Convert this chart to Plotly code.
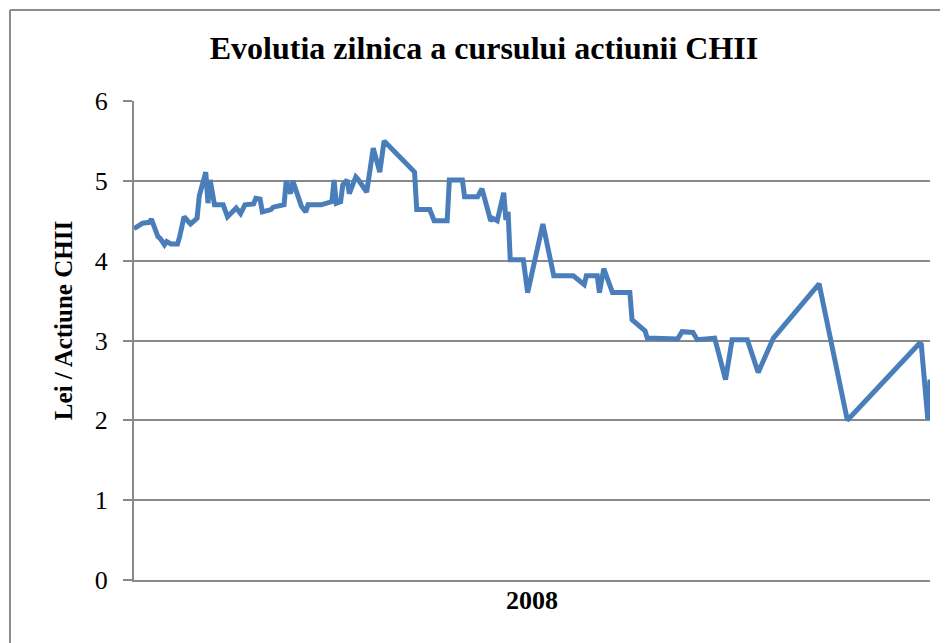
import plotly.graph_objects as go

# day offsets within 2008 and price in Lei
days = [0, 4, 7, 8, 11, 12, 14, 15, 17, 20, 21, 23, 26, 28, 29, 30, 33, 34, 35, 37,
        41, 43, 46, 47, 49, 51, 55, 56, 58, 59, 63, 64, 69, 70, 72, 73, 77, 79, 80, 86,
        91, 92, 93, 95, 96, 98, 99, 102, 103, 107, 110, 113, 115, 129, 130, 136, 138, 144, 145, 151,
        152, 158, 160, 164, 165, 167, 170, 171, 172, 173, 179, 181, 188, 193, 202, 207, 208, 213, 214, 216,
        220, 228, 229, 235, 236, 248, 250, 252, 257, 259, 267, 272, 275, 282, 287, 294, 315, 328, 361, 362,
        365, 366]
prices = [4.40, 4.47, 4.48, 4.52, 4.30, 4.28, 4.20, 4.24, 4.21, 4.21, 4.30, 4.55, 4.46, 4.52, 4.53, 4.81, 5.11, 4.72, 5.01, 4.70,
          4.70, 4.55, 4.64, 4.66, 4.59, 4.70, 4.71, 4.78, 4.77, 4.61, 4.64, 4.67, 4.70, 5.00, 4.84, 5.00, 4.68, 4.61, 4.70, 4.70,
          4.74, 5.01, 4.72, 4.74, 4.95, 5.01, 4.84, 5.05, 5.02, 4.86, 5.41, 5.11, 5.50, 5.11, 4.64, 4.64, 4.50, 4.50, 5.01, 5.01,
          4.80, 4.80, 4.90, 4.50, 4.53, 4.50, 4.85, 4.51, 4.61, 4.01, 4.01, 3.60, 4.46, 3.81, 3.81, 3.70, 3.81, 3.81, 3.60, 3.90,
          3.60, 3.60, 3.26, 3.12, 3.03, 3.01, 3.02, 3.11, 3.10, 3.01, 3.03, 2.51, 3.01, 3.01, 2.60, 3.03, 3.71, 2.00, 2.96, 2.95,
          2.01, 2.51]

title_text = "Evolutia zilnica a cursului actiunii CHII"
y_title = "Lei / Actiune CHII"
x_title = "2008"
y_ticks = [0, 1, 2, 3, 4, 5, 6]

SERIF = "'Liberation Serif', 'DejaVu Serif', serif"
GRID = "#898989"

fig = go.Figure()
fig.add_trace(go.Scatter(x=days, y=prices, mode="lines",
                         line=dict(color="#4a7ebb", width=5),
                         hoverinfo="x+y", showlegend=False))

fig.update_layout(
    width=948, height=643,
    margin=dict(l=126, r=26, t=93, b=71),
    paper_bgcolor="white", plot_bgcolor="white",
    title=dict(text="<b>" + title_text + "</b>", x=476 / 948, xref="container", xanchor="center",
               y=1 - 40 / 643, yref="container", yanchor="middle",
               font=dict(family=SERIF, size=32, color="black")),
    xaxis=dict(range=[0, 366], showticklabels=False, showgrid=False, zeroline=False,
               showline=True, linecolor=GRID, linewidth=2, ticks=""),
    yaxis=dict(range=[0, 6], tickvals=y_ticks, ticktext=[str(v) for v in y_ticks],
               showgrid=True, gridcolor=GRID, gridwidth=2, zeroline=False,
               showline=True, linecolor=GRID, linewidth=2,
               ticks="outside", ticklen=9, tickwidth=2, tickcolor=GRID,
               ticklabelstandoff=10,
               tickfont=dict(family=SERIF, size=26, color="black")),
    annotations=[
        dict(text="<b>" + y_title + "</b>", xref="paper", yref="paper",
             x=-0.0892, y=0.5425, xanchor="center", yanchor="middle", textangle=-90,
             showarrow=False, font=dict(family=SERIF, size=25, color="black")),
        dict(text="<b>" + x_title + "</b>", xref="paper", yref="paper",
             x=0.5, y=-0.0418, xanchor="center", yanchor="middle",
             showarrow=False, font=dict(family=SERIF, size=26, color="black")),
    ],
    shapes=[
        dict(type="line", xref="paper", yref="paper", x0=-0.1558, x1=1.1, y0=1.19, y1=1.19,
             line=dict(color="#8c8c8c", width=2)),
        dict(type="line", xref="paper", yref="paper", x0=-0.1558, x1=-0.1558, y0=-0.2, y1=1.19,
             line=dict(color="#8c8c8c", width=2)),
    ],
)

fig.write_html("out.html")
